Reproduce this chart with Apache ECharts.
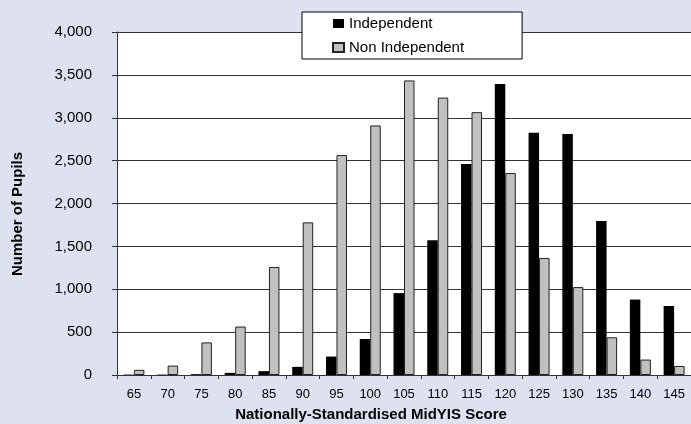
<!DOCTYPE html>
<html>
<head>
<meta charset="utf-8">
<script src="https://cdn.jsdelivr.net/npm/echarts@6/dist/echarts.min.js"></script>
<style>
html,body{margin:0;padding:0;background:#dee2f0;}
#chart{width:691px;height:424px;}
</style>
</head>
<body>
<div id="chart"></div>
<script>
var categories = ['65','70','75','80','85','90','95','100','105','110','115','120','125','130','135','140','145'];
var independent = [5, 5, 10, 25, 45, 95, 215, 420, 955, 1570, 2460, 3395, 2825, 2810, 1795, 880, 805];
var nonIndependent = [60, 110, 380, 565, 1260, 1780, 2565, 2910, 3435, 3235, 3065, 2355, 1365, 1025, 440, 180, 105];
var yTicks = {min: 0, max: 4000, interval: 500};

var FONT = '"Liberation Sans", Arial, sans-serif';
var chart = echarts.init(document.getElementById('chart'), null, {renderer: 'canvas'});
chart.setOption({
  backgroundColor: '#dee2f0',
  animation: false,
  textStyle: {fontFamily: FONT},
  grid: {left: 117, top: 32, width: 580, bottom: 49, backgroundColor: '#ffffff', show: true, borderWidth: 0},
  legend: {
    orient: 'vertical',
    left: 302, top: 12,
    padding: [4, 58, 4, 30],
    backgroundColor: '#ffffff',
    borderColor: '#000000',
    borderWidth: 1,
    itemGap: 9,
    itemWidth: 11,
    itemHeight: 9,
    icon: 'rect',
    textStyle: {fontFamily: FONT, fontSize: 15, color: '#000'},
    data: ['Independent', 'Non Independent']
  },
  xAxis: {
    type: 'category',
    data: categories,
    axisLine: {lineStyle: {color: '#333', width: 1}},
    axisTick: {show: true, length: 4, lineStyle: {color: '#333'}, alignWithLabel: false},
    axisLabel: {fontFamily: FONT, fontSize: 13, color: '#000', margin: 13, interval: 0},
    splitLine: {show: false}
  },
  yAxis: {
    type: 'value',
    min: yTicks.min, max: yTicks.max, interval: yTicks.interval,
    axisLine: {show: true, lineStyle: {color: '#333', width: 1}},
    axisTick: {show: true, length: 5, lineStyle: {color: '#333'}},
    axisLabel: {
      fontFamily: FONT, fontSize: 15, color: '#000', margin: 25,
      formatter: function (v) { return String(v).replace(/\B(?=(\d{3})+(?!\d))/g, ','); }
    },
    splitLine: {show: true, lineStyle: {color: '#333', width: 1}}
  },
  series: [
    {
      name: 'Independent', type: 'bar', data: independent,
      barWidth: 10.5, barGap: '0%',
      itemStyle: {color: '#000000', borderColor: '#000000', borderWidth: 0}
    },
    {
      name: 'Non Independent', type: 'bar', data: nonIndependent,
      barWidth: 10.5, barGap: '0%',
      itemStyle: {color: '#c0c0c0', borderColor: '#222222', borderWidth: 1}
    }
  ],
  graphic: [
    {
      type: 'text', x: 371, y: 415,
      style: {text: 'Nationally-Standardised MidYIS Score', font: 'bold 15px ' + FONT, fill: '#000', textAlign: 'center', textVerticalAlign: 'middle'}
    },
    {
      type: 'text', x: 18, y: 214, rotation: Math.PI / 2,
      style: {text: 'Number of Pupils', font: 'bold 15px ' + FONT, fill: '#000', textAlign: 'center', textVerticalAlign: 'middle'}
    }
  ]
});
</script>
</body>
</html>
